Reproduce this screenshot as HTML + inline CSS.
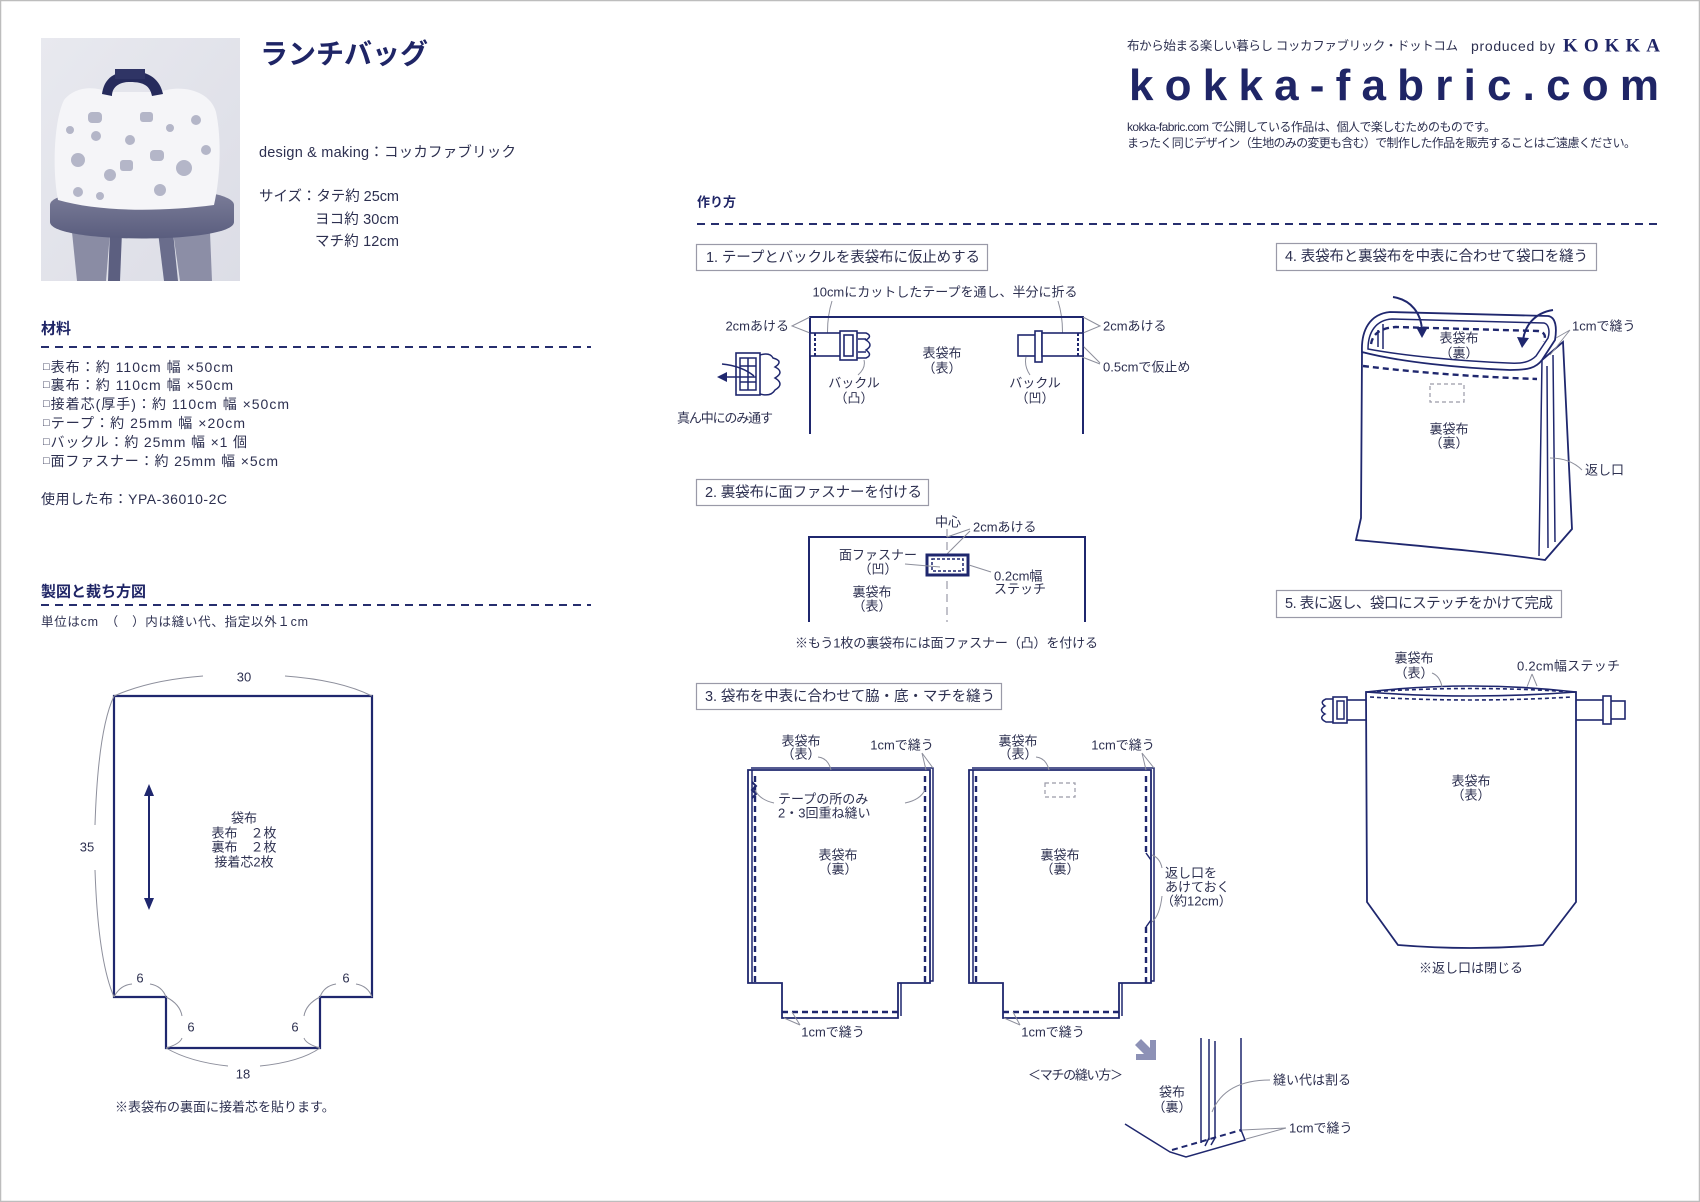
<!DOCTYPE html>
<html><head><meta charset="utf-8">
<style>
html,body{margin:0;padding:0;background:#fff;}
svg{display:block;}
text{font-family:"Liberation Sans","Noto Sans CJK JP",sans-serif;fill:#2d3050;dominant-baseline:central;}
.t{font-size:13px;}
.m{text-anchor:middle;}
.e{text-anchor:end;}
.b{font-size:14px;}
.h{font-weight:bold;fill:#1f2566;}
.step{font-size:14.5px;fill:#2d3050;}
.o{fill:none;stroke:#1f276e;stroke-width:2;}
.o1{fill:none;stroke:#1f276e;stroke-width:1.5;}
.w{fill:#fff;stroke:#1f276e;stroke-width:1.6;}
.d{fill:none;stroke:#1f276e;stroke-width:2.4;stroke-dasharray:6 4;}
.g{fill:none;stroke:#8d8f9c;stroke-width:1;}
.box{fill:#fff;stroke:#9a9aa8;stroke-width:1.2;}
.hd{fill:none;stroke:#262e6e;stroke-width:2;stroke-dasharray:8 6;}
</style></head>
<body>
<svg width="1700" height="1202" viewBox="0 0 1700 1202" xmlns="http://www.w3.org/2000/svg">
<rect x="0.5" y="0.5" width="1699" height="1201" fill="#fff" stroke="#bdbdbd" stroke-width="1.5"/>

<!-- PHOTO -->
<defs>
<linearGradient id="pbg" x1="0" y1="0" x2="1" y2="1"><stop offset="0" stop-color="#e8e9ef"/><stop offset="1" stop-color="#dcdde6"/></linearGradient>
<linearGradient id="seat" x1="0" y1="0" x2="0" y2="1"><stop offset="0" stop-color="#7e809b"/><stop offset="1" stop-color="#5a5d7e"/></linearGradient>
</defs>
<rect x="41" y="38" width="199" height="243" fill="url(#pbg)"/>
<polygon points="72,232 110,232 106,281 77,281" fill="#8a8ca4"/>
<polygon points="110,232 122,232 120,281 108,281" fill="#5c5f80"/>
<polygon points="173,232 210,232 212,281 180,281" fill="#8c8ea6"/>
<polygon points="158,232 173,232 178,281 164,281" fill="#6a6d8c"/>
<path d="M50,205 C50,182 234,182 234,205 L234,222 C234,244 50,244 50,222 Z" fill="url(#seat)"/>
<path d="M58,200 C52,170 54,120 64,100 C75,86 95,86 108,92 L160,92 C180,84 210,90 216,112 C222,140 220,180 214,205 C160,212 100,212 58,200 Z" fill="#f5f5f8"/>
<path d="M102,94 C104,80 112,72 130,71 C150,71 160,80 163,94 L152,96 C150,86 144,82 130,82 C118,82 112,88 112,96 Z" fill="#262b5c"/>
<rect x="115" y="69" width="30" height="10" fill="#2f3465"/>
<g fill="#b4b6c8">
<circle cx="78" cy="160" r="7"/><circle cx="96" cy="136" r="5"/><circle cx="184" cy="168" r="8"/><circle cx="206" cy="150" r="5"/>
<rect x="88" y="112" width="14" height="11" rx="4"/><rect x="140" y="112" width="13" height="10" rx="3"/><rect x="150" y="150" width="14" height="11" rx="4"/>
<circle cx="130" cy="140" r="5"/><circle cx="110" cy="175" r="6"/><circle cx="160" cy="190" r="6"/><circle cx="70" cy="130" r="4"/><circle cx="196" cy="120" r="5"/>
<rect x="120" y="160" width="13" height="11" rx="3"/><circle cx="78" cy="192" r="5"/><circle cx="170" cy="128" r="4"/><circle cx="100" cy="196" r="4"/>
</g>

<!-- TITLE BLOCK -->
<text x="260" y="54" class="h" style="font-size:28px" textLength="168">ランチバッグ</text>
<text x="259" y="153" style="font-size:14.5px" textLength="257">design &amp; making：コッカファブリック</text>
<text x="259" y="197" style="font-size:14.5px" textLength="140">サイズ：タテ約 25cm</text>
<text x="315" y="220" style="font-size:14.5px" textLength="84">ヨコ約 30cm</text>
<text x="315" y="242" style="font-size:14.5px" textLength="84">マチ約 12cm</text>

<!-- MATERIALS -->
<text x="41" y="329" class="h" style="font-size:15px">材料</text>
<line x1="41" y1="347" x2="591" y2="347" class="hd"/>
<text x="43" y="367" class="b" textLength="190"><tspan style="font-size:11px">□</tspan>表布：約 110cm 幅 ×50cm</text>
<text x="43" y="385" class="b" textLength="190"><tspan style="font-size:11px">□</tspan>裏布：約 110cm 幅 ×50cm</text>
<text x="43" y="404" class="b" textLength="246"><tspan style="font-size:11px">□</tspan>接着芯(厚手)：約 110cm 幅 ×50cm</text>
<text x="43" y="423" class="b" textLength="202"><tspan style="font-size:11px">□</tspan>テープ：約 25mm 幅 ×20cm</text>
<text x="43" y="442" class="b" textLength="204"><tspan style="font-size:11px">□</tspan>バックル：約 25mm 幅 ×1 個</text>
<text x="43" y="461" class="b" textLength="235"><tspan style="font-size:11px">□</tspan>面ファスナー：約 25mm 幅 ×5cm</text>
<text x="41" y="499" class="b" textLength="186">使用した布：YPA-36010-2C</text>

<text x="41" y="592" class="h" style="font-size:15px">製図と裁ち方図</text>
<line x1="41" y1="605" x2="591" y2="605" class="hd"/>
<text x="41" y="622" style="font-size:12.5px" textLength="267">単位はcm　（　）内は縫い代、指定以外１cm</text>

<!-- PATTERN -->
<path d="M114,696 L372,696 L372,997 L320,997 L320,1048 L166,1048 L166,997 L114,997 Z" fill="none" stroke="#1f276e" stroke-width="2.2"/>
<path class="g" d="M114,696 Q150,680 203,676 M285,676 Q340,680 372,696"/>
<path class="g" d="M114,696 Q98,730 95,825 M95,870 Q98,960 114,997"/>
<path class="g" d="M114,997 Q120,985 132,984 M150,984 Q162,986 166,997"/>
<path class="g" d="M166,997 Q180,1004 182,1016 M182,1038 Q180,1044 166,1048"/>
<path class="g" d="M320,997 Q306,1004 304,1016 M304,1038 Q306,1044 320,1048"/>
<path class="g" d="M320,997 Q324,986 336,984 M356,984 Q368,986 372,997"/>
<path class="g" d="M166,1048 Q190,1062 228,1066 M260,1066 Q300,1062 320,1048"/>
<text x="244" y="677" class="t m">30</text>
<text x="87" y="847" class="t m">35</text>
<text x="140" y="978" class="t m">6</text>
<text x="346" y="978" class="t m">6</text>
<text x="191" y="1027" class="t m">6</text>
<text x="295" y="1027" class="t m">6</text>
<text x="243" y="1074" class="t m">18</text>
<line x1="149" y1="792" x2="149" y2="901" stroke="#1f276e" stroke-width="2"/>
<path d="M149,784 L144,796 L154,796 Z M149,910 L144,898 L154,898 Z" fill="#1f276e"/>
<text x="244" y="818" class="t m">袋布</text>
<text x="244" y="833" class="t m">表布　２枚</text>
<text x="244" y="847" class="t m">裏布　２枚</text>
<text x="244" y="862" class="t m">接着芯2枚</text>
<text x="115" y="1107" class="t">※表袋布の裏面に接着芯を貼ります。</text>

<!-- HEADER RIGHT -->
<text x="1127" y="46" style="font-size:12.5px" textLength="331">布から始まる楽しい暮らし コッカファブリック・ドットコム</text>
<text x="1471" y="46" style="font-size:14px" textLength="84">produced by</text>
<text x="1563" y="46" style="font-size:19px;font-weight:bold;font-family:'Liberation Serif',serif;fill:#1f2566" textLength="97">KOKKA</text>
<text x="1129" y="100" style="font-size:44px;font-weight:bold;font-family:'Liberation Sans',sans-serif;fill:#1f2566;dominant-baseline:alphabetic" textLength="530" lengthAdjust="spacing">kokka-fabric.com</text>
<text x="1127" y="127" style="font-size:12px" textLength="369">kokka-fabric.com で公開している作品は、個人で楽しむためのものです。</text>
<text x="1127" y="143" style="font-size:12px" textLength="509">まったく同じデザイン（生地のみの変更も含む）で制作した作品を販売することはご遠慮ください。</text>

<!-- HOW TO -->
<text x="697" y="202" class="h" style="font-size:13px">作り方</text>
<line x1="697" y1="224" x2="1660" y2="224" class="hd"/>

<!-- STEP 1 -->
<rect x="696.5" y="244.5" width="291" height="26" class="box"/>
<text x="706" y="258" class="step" textLength="274">1. テープとバックルを表袋布に仮止めする</text>
<text x="945" y="292" class="t m" textLength="265">10cmにカットしたテープを通し、半分に折る</text>
<path class="g" d="M832,301 Q826,320 828,343 M1058,301 Q1064,320 1062,343"/>
<path class="o" d="M810,434 L810,317 L1083,317 L1083,434"/>
<text x="789" y="326" class="t e">2cmあける</text>
<path class="g" d="M810,317 L792,326 L810,333"/>
<text x="1103" y="326" class="t">2cmあける</text>
<path class="g" d="M1083,317 L1100,326 L1083,333"/>
<text x="1103" y="367" class="t">0.5cmで仮止め</text>
<path class="g" d="M1082,345 L1100,363 M1082,357 L1100,364"/>
<!-- left tape & male buckle -->
<rect x="810" y="333" width="31" height="23" class="w"/>
<line x1="815" y1="333" x2="815" y2="356" stroke="#1f276e" stroke-width="2" stroke-dasharray="3 2"/>
<rect x="840" y="331" width="17" height="29" class="w"/>
<rect x="844" y="335" width="9" height="21" class="w"/>
<path class="o1" d="M857,333 L866,333 Q873,336 866,340 Q874,345 866,350 Q873,355 866,358 L857,358 M858,339 L866,339 M858,352 L866,352"/>
<!-- right female buckle -->
<rect x="1018" y="335" width="18" height="21" class="w"/>
<rect x="1035" y="331" width="7" height="31" class="w"/>
<rect x="1042" y="333" width="41" height="23" class="w"/>
<line x1="1078" y1="333" x2="1078" y2="356" stroke="#1f276e" stroke-width="2" stroke-dasharray="3 2"/>
<text x="942" y="353" class="t m">表袋布</text>
<text x="942" y="368" class="t m">（表）</text>
<text x="854" y="383" class="t m">バックル</text>
<text x="854" y="398" class="t m">（凸）</text>
<text x="1035" y="383" class="t m">バックル</text>
<text x="1035" y="398" class="t m">（凹）</text>
<path class="g" d="M858,375 Q866,368 864,360 M1030,375 Q1024,366 1026,357"/>
<!-- left buckle icon -->
<rect x="736" y="353" width="24" height="42" class="w"/>
<rect x="740" y="358" width="16" height="32" class="o1"/>
<path class="o1" d="M748,358 L748,390 M740,366 L756,366 M740,382 L756,382"/>
<path class="o1" d="M760,355 Q770,352 773,358 Q784,361 775,367 Q785,372 775,378 Q785,384 775,390 Q771,397 760,394"/>
<path class="o1" d="M722,364 Q742,366 754,376"/>
<line x1="756" y1="377" x2="724" y2="377" stroke="#1f276e" stroke-width="1.6"/>
<path d="M717,377 L727,372 L727,382 Z" fill="#1f276e"/>
<text x="677" y="418" class="t" textLength="96">真ん中にのみ通す</text>

<!-- STEP 2 -->
<rect x="696.5" y="479.5" width="232" height="26" class="box"/>
<text x="705" y="493" class="step" textLength="217">2. 裏袋布に面ファスナーを付ける</text>
<path class="o" d="M809,622 L809,537 L1085,537 L1085,622"/>
<line x1="947" y1="529" x2="947" y2="622" stroke="#9a9aa8" stroke-width="1.2" stroke-dasharray="8 5"/>
<text x="948" y="522" class="t m">中心</text>
<text x="973" y="527" class="t">2cmあける</text>
<path class="g" d="M970,529 L947,537 M970,531 L947,554"/>
<rect x="927" y="555" width="41" height="20" fill="#fff" stroke="#1f276e" stroke-width="3"/>
<rect x="932" y="559" width="31" height="12" fill="none" stroke="#1f276e" stroke-width="1.5" stroke-dasharray="3 2"/>
<text x="878" y="555" class="t m">面ファスナー</text>
<text x="878" y="569" class="t m">（凹）</text>
<path class="g" d="M905,564 L940,567"/>
<text x="994" y="576" class="t">0.2cm幅</text>
<text x="994" y="589" class="t">ステッチ</text>
<path class="g" d="M991,572 L969,565"/>
<text x="872" y="592" class="t m">裏袋布</text>
<text x="872" y="606" class="t m">（表）</text>
<text x="795" y="643" class="t" textLength="303">※もう1枚の裏袋布には面ファスナー（凸）を付ける</text>

<!-- STEP 3 -->
<rect x="696.5" y="683.5" width="305" height="26" class="box"/>
<text x="705" y="697" class="step" textLength="290">3. 袋布を中表に合わせて脇・底・マチを縫う</text>
<!-- left panel -->
<path class="o1" d="M751,768 L933,768 L933,981 L901,981 L901,1016"/>
<path d="M748,770 L930,770 L930,983 L898,983 L898,1018 L782,1018 L782,983 L748,983 Z" fill="#fff" stroke="#1f276e" stroke-width="1.8"/>
<path class="o1" d="M752,770 L752,983"/>
<path class="d" d="M755,776 L755,983 M925,776 L925,983 M782,1012 L898,1012"/>
<path d="M752,782 L756,786 L752,790 L756,794 L752,798" fill="none" stroke="#1f276e" stroke-width="2"/>
<text x="801" y="741" class="t m">表袋布</text>
<text x="801" y="754" class="t m">（表）</text>
<path class="g" d="M818,757 Q828,758 831,770"/>
<text x="902" y="745" class="t m">1cmで縫う</text>
<path class="g" d="M922,753 L926,770 M922,753 L933,768"/>
<text x="778" y="799" class="t">テープの所のみ</text>
<text x="778" y="813" class="t">2・3回重ね縫い</text>
<path class="g" d="M774,803 Q760,800 755,790 M905,803 Q920,800 925,790"/>
<text x="838" y="855" class="t m">表袋布</text>
<text x="838" y="869" class="t m">（裏）</text>
<text x="833" y="1032" class="t m">1cmで縫う</text>
<path class="g" d="M800,1025 L792,1012 M800,1025 L784,1018"/>
<!-- right panel -->
<path class="o1" d="M972,768 L1154,768 L1154,981 L1122,981 L1122,1016"/>
<path d="M969,770 L1151,770 L1151,983 L1119,983 L1119,1018 L1003,1018 L1003,983 L969,983 Z" fill="#fff" stroke="#1f276e" stroke-width="1.8"/>
<path class="o1" d="M973,770 L973,983"/>
<path class="d" d="M976,776 L976,983 M1146,776 L1146,853 M1146,927 L1146,983 M1003,1012 L1119,1012"/>
<path class="o1" d="M1146,853 L1151,860 M1151,920 L1146,927"/>
<rect x="1045" y="783" width="30" height="14" fill="none" stroke="#9a9aa8" stroke-width="1.2" stroke-dasharray="4 3"/>
<text x="1018" y="741" class="t m">裏袋布</text>
<text x="1018" y="754" class="t m">（表）</text>
<path class="g" d="M1036,757 Q1046,758 1049,770"/>
<text x="1123" y="745" class="t m">1cmで縫う</text>
<path class="g" d="M1142,753 L1146,770 M1142,753 L1154,768"/>
<text x="1060" y="855" class="t m">裏袋布</text>
<text x="1060" y="869" class="t m">（裏）</text>
<text x="1165" y="873" class="t">返し口を</text>
<text x="1165" y="887" class="t">あけておく</text>
<text x="1161" y="901" class="t">（約12cm）</text>
<path class="g" d="M1162,868 Q1160,858 1152,855 M1162,896 Q1160,915 1152,922"/>
<text x="1053" y="1032" class="t m">1cmで縫う</text>
<path class="g" d="M1020,1025 L1013,1012 M1020,1025 L1004,1018"/>

<!-- MACHI DETAIL -->
<path d="M1135,1045 L1141,1039 L1150,1048 L1150,1040 L1156,1040 L1156,1060 L1136,1060 L1136,1054 L1144,1054 Z" fill="#8d91b6"/>
<text x="1028" y="1075" class="t" textLength="95">＜マチの縫い方＞</text>
<text x="1172" y="1092" class="t m">袋布</text>
<text x="1172" y="1107" class="t m">（裏）</text>
<path class="o1" d="M1201,1038 L1201,1143 M1209,1039 L1209,1140 M1215,1041 L1215,1138 M1241,1038 L1241,1132"/>
<path class="o1" d="M1125,1124 L1170,1152 L1186,1157 L1245,1140 L1241,1130"/>
<path class="d" d="M1172,1150 L1241,1130" style="stroke-width:2"/>
<path class="o1" d="M1205,1146 L1209,1138 M1211,1145 L1215,1138"/>
<text x="1273" y="1080" class="t">縫い代は割る</text>
<path class="g" d="M1270,1080 Q1225,1080 1212,1112"/>
<text x="1289" y="1128" class="t">1cmで縫う</text>
<path class="g" d="M1286,1128 L1242,1130 M1286,1128 L1246,1139"/>

<!-- STEP 4 -->
<rect x="1276.5" y="243.5" width="320" height="27" class="box"/>
<text x="1285" y="257" class="step" textLength="303">4. 表袋布と裏袋布を中表に合わせて袋口を縫う</text>
<path d="M1362,352 L1361,518 L1356,540 C1420,546 1490,552 1545,560 L1572,529 L1563,342 L1542,360 C1500,370 1420,365 1362,352 Z" fill="#fff" stroke="#1f276e" stroke-width="1.8"/>
<path class="o1" d="M1542,360 L1539,556 M1547,366 L1548,548 M1553,355 L1555,542"/>
<path d="M1362,352 C1361,330 1370,314 1390,312 L1548,316 C1556,317 1557,328 1555,340 L1542,360 C1536,368 1528,370 1510,370 C1460,368 1400,362 1362,352 Z" fill="#fff" stroke="#1f276e" stroke-width="1.8"/>
<path class="o1" d="M1368,349 C1368,332 1376,320 1392,319 L1544,323 C1549,324 1550,332 1548,338 L1536,356 C1530,362 1522,364 1508,363 C1460,361 1405,356 1368,349 Z"/>
<path class="o1" d="M1378,330 L1378,347 M1383,324 L1383,349"/>
<path class="d" d="M1371,344 C1373,333 1381,328 1396,327 L1538,331 C1545,332 1546,336 1544,342"/>
<path class="d" d="M1363,366 C1420,373 1480,377 1537,379"/>
<rect x="1430" y="384" width="34" height="18" fill="none" stroke="#9a9aa8" stroke-width="1.2" stroke-dasharray="4 3"/>
<path class="o" d="M1393,297 C1412,300 1421,314 1422,330"/>
<path d="M1422,338 L1416,327 L1428,327 Z" fill="#1f276e"/>
<path class="o" d="M1553,310 C1534,313 1525,326 1523,340"/>
<path d="M1522,348 L1517,337 L1529,338 Z" fill="#1f276e"/>
<text x="1459" y="338" class="t m">表袋布</text>
<text x="1459" y="353" class="t m">（裏）</text>
<text x="1449" y="429" class="t m">裏袋布</text>
<text x="1449" y="443" class="t m">（裏）</text>
<text x="1572" y="326" class="t">1cmで縫う</text>
<path class="g" d="M1570,330 L1556,338 M1570,330 L1550,355"/>
<text x="1585" y="470" class="t">返し口</text>
<path class="g" d="M1582,470 Q1570,458 1550,458"/>

<!-- STEP 5 -->
<rect x="1276.5" y="590.5" width="285" height="27" class="box"/>
<text x="1285" y="604" class="step" textLength="268">5. 表に返し、袋口にステッチをかけて完成</text>
<!-- tabs -->
<rect x="1337" y="700" width="30" height="20" class="w"/>
<rect x="1333" y="697" width="14" height="26" class="w"/>
<rect x="1337" y="701" width="7" height="18" class="o1"/>
<path class="o1" d="M1333,699 L1326,699 Q1319,702 1325,706 Q1318,710 1325,714 Q1318,718 1326,722 L1333,722"/>
<rect x="1575" y="700" width="29" height="20" class="w"/>
<rect x="1610" y="701" width="15" height="18" class="w"/>
<rect x="1603" y="696" width="8" height="28" class="w"/>
<!-- bag body -->
<path d="M1366,692 L1367,902 L1398,945 Q1471,951 1543,945 L1576,902 L1576,692 Z" fill="#fff" stroke="#1f276e" stroke-width="1.8"/>
<path d="M1366,692 Q1471,680 1576,692 Q1471,700 1366,692 Z" fill="#fff" stroke="#1f276e" stroke-width="1.6"/>
<path class="d" d="M1370,692 Q1471,685 1572,692" style="stroke-width:1.6;stroke-dasharray:4 3"/>
<path class="d" d="M1370,697 Q1471,703 1572,697" style="stroke-width:1.6;stroke-dasharray:4 3"/>
<text x="1414" y="658" class="t m">裏袋布</text>
<text x="1414" y="673" class="t m">（表）</text>
<path class="g" d="M1432,673 Q1440,676 1442,687"/>
<text x="1517" y="666" class="t" textLength="103">0.2cm幅ステッチ</text>
<path class="g" d="M1532,674 L1527,687 M1532,674 L1537,686"/>
<text x="1471" y="781" class="t m">表袋布</text>
<text x="1471" y="795" class="t m">（表）</text>
<text x="1471" y="968" class="t m">※返し口は閉じる</text>
</svg>
</body></html>
